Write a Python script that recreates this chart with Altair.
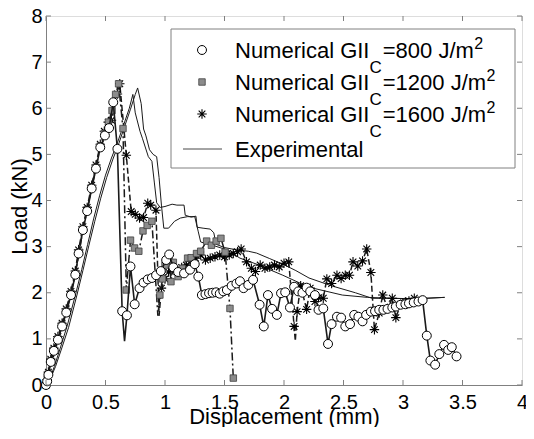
import altair as alt
import pandas as pd

# ---------------- data ----------------
# Numerical GIIc = 800 J/m2 (open circles, solid line)
x800 = [0, 0.01, 0.02, 0.04, 0.066, 0.10, 0.135, 0.17, 0.21, 0.246, 0.274, 0.31, 0.346, 0.384,
        0.42, 0.456, 0.495, 0.53, 0.565, 0.60, 0.64, 0.68, 0.71, 0.745, 0.786, 0.82, 0.855, 0.89,
        0.925, 0.965, 1.01, 1.035, 1.07, 1.11, 1.16, 1.21, 1.25, 1.28, 1.31, 1.34, 1.37, 1.40,
        1.43, 1.46, 1.49, 1.52, 1.56, 1.60, 1.63, 1.66, 1.70, 1.74, 1.795, 1.83, 1.865, 1.90,
        1.94, 1.975, 2.01, 2.05, 2.085, 2.12, 2.155, 2.19, 2.22, 2.26, 2.29, 2.33, 2.37, 2.40,
        2.445, 2.48, 2.515, 2.555, 2.59, 2.625, 2.66, 2.69, 2.73, 2.765, 2.80, 2.835, 2.87, 2.91,
        2.94, 2.98, 3.02, 3.05, 3.09, 3.13, 3.165, 3.20, 3.23, 3.27, 3.305, 3.345, 3.38, 3.41, 3.45]
y800 = [0, 0.08, 0.22, 0.5, 0.74, 0.98, 1.27, 1.57, 1.95, 2.39, 2.85, 3.36, 3.77, 4.26,
        4.69, 5.15, 5.41, 5.57, 6.13, 5.12, 1.6, 1.51, 2.57, 1.75, 2.1, 2.22, 2.29, 2.32,
        2.38, 2.47, 2.71, 2.83, 2.55, 2.45, 2.42, 2.5, 2.62, 2.35, 1.95, 1.97, 1.99, 2.0,
        2.01, 1.98, 2.03, 2.06, 2.15, 2.2, 2.25, 2.1, 2.17, 2.28, 1.74, 1.27, 1.95, 1.65,
        1.52, 1.99, 2.01, 1.68, 2.13, 2.03, 2.0, 2.11, 2.03, 1.95, 1.63, 1.66, 0.89, 1.32,
        1.48, 1.46, 1.27, 1.32, 1.52, 1.48, 1.38, 1.52, 1.59, 1.6, 1.63, 1.63, 1.65, 1.68,
        1.70, 1.74, 1.75, 1.77, 1.79, 1.81, 1.84, 1.07, 0.53, 0.44, 0.67, 0.87, 0.76, 0.82, 0.62]
spike800_x = [0.66]
spike800_y = [0.95]

# Numerical GIIc = 1200 J/m2 (grey squares, dash-dot line)
x1200 = [0, 0.01, 0.02, 0.04, 0.066, 0.10, 0.135, 0.17, 0.21, 0.246, 0.28, 0.31, 0.346, 0.384,
         0.42, 0.456, 0.49, 0.525, 0.555, 0.585, 0.61, 0.647, 0.675, 0.71, 0.744, 0.78, 0.815,
         0.85, 0.89, 0.957, 0.98, 1.0, 1.035, 1.05, 1.07, 1.11, 1.145, 1.19, 1.22, 1.265, 1.30,
         1.35, 1.39, 1.43, 1.47, 1.505, 1.546, 1.574]
y1200 = [0, 0.1, 0.24, 0.52, 0.76, 1.0, 1.3, 1.6, 1.98, 2.42, 2.88, 3.38, 3.8, 4.28,
         4.72, 5.18, 5.45, 5.7, 5.95, 6.3, 6.53, 5.56, 2.06, 3.14, 2.97, 2.9, 3.34,
         3.46, 3.55, 1.95, 2.3, 2.6, 2.75, 2.24, 2.66, 2.35, 2.53, 2.75, 2.76, 2.85, 2.9,
         3.12, 3.03, 3.12, 3.18, 2.88, 1.66, 0.15]
spike1200_x = [0.94]
spike1200_y = [1.5]

# Numerical GIIc = 1600 J/m2 (stars, dashed line)
x1600 = [0, 0.01, 0.02, 0.04, 0.066, 0.10, 0.135, 0.17, 0.21, 0.246, 0.274, 0.31, 0.346, 0.384,
         0.42, 0.456, 0.49, 0.523, 0.55, 0.60, 0.62, 0.675, 0.716, 0.75, 0.786, 0.82, 0.855,
         0.88, 0.924, 0.97, 1.0, 1.03, 1.065, 1.10, 1.14, 1.18, 1.22, 1.256, 1.30, 1.34, 1.38,
         1.42, 1.46, 1.50, 1.54, 1.574, 1.61, 1.64, 1.685, 1.726, 1.76, 1.80, 1.84, 1.88, 1.92,
         1.96, 2.0, 2.04, 2.085, 2.11, 2.14, 2.19, 2.22, 2.26, 2.29, 2.33, 2.36, 2.40, 2.445,
         2.48, 2.515, 2.55, 2.58, 2.62, 2.66, 2.695, 2.73, 2.76, 2.80, 2.83, 2.87, 2.91, 2.94,
         2.98, 3.02, 3.05, 3.095]
y1600 = [0, 0.12, 0.28, 0.56, 0.8, 1.05, 1.34, 1.65, 2.03, 2.47, 2.93, 3.43, 3.85, 4.33,
         4.77, 5.22, 5.5, 5.7, 5.74, 6.31, 6.53, 4.98, 3.76, 3.7, 3.62, 3.63, 3.94,
         3.9, 3.79, 2.1, 2.3, 2.45, 2.5, 2.46, 2.55, 2.6, 2.68, 2.75, 2.82, 2.71, 2.75,
         2.78, 2.82, 2.78, 2.82, 2.85, 2.89, 2.95, 2.67, 2.53, 2.46, 2.6, 2.53, 2.56, 2.6,
         2.56, 2.64, 2.67, 1.27, 1.59, 2.15, 1.64, 2.1, 1.81, 1.89, 1.88, 2.3, 2.2, 2.38,
         2.31, 2.38, 2.38, 2.67, 2.58, 2.69, 2.95, 2.44, 1.2, 1.56, 1.95, 1.66, 1.88, 1.46,
         1.75, 1.8, 1.82, 1.88]
spike1600_x = [0.95, 2.095]
spike1600_y = [1.5, 0.95]

# Experimental (two specimens, thin lines)
expA_x = [0, 0.03, 0.07, 0.12, 0.18, 0.25, 0.30, 0.35, 0.40, 0.45, 0.50, 0.55, 0.60, 0.65,
          0.70, 0.73, 0.75, 0.79, 0.81, 0.86, 0.89, 0.91, 0.93, 0.96, 1.0, 1.06, 1.10, 1.16,
          1.17, 1.22, 1.26, 1.27, 1.32, 1.38, 1.41, 1.43, 1.50, 1.60, 1.70, 1.77, 1.88, 1.99,
          2.10, 2.21, 2.40, 2.60, 2.74, 2.90, 3.05, 3.20, 3.35]
expA_y = [0, 0.12, 0.4, 0.8, 1.3, 1.98, 2.5, 3.05, 3.6, 4.1, 4.55, 4.92, 5.25, 5.62,
          6.0, 6.3, 5.9, 5.5, 5.35, 4.95, 4.85, 4.4, 3.95, 3.85, 3.87, 3.92, 3.9, 3.9,
          3.68, 3.64, 3.66, 3.42, 3.4, 3.38, 3.3, 3.05, 2.98, 2.93, 2.9, 2.86, 2.74, 2.62,
          2.48, 2.32, 2.15, 2.0, 1.88, 1.88, 1.87, 1.88, 1.9]
expB_x = [0, 0.03, 0.08, 0.13, 0.19, 0.26, 0.31, 0.36, 0.41, 0.46, 0.51, 0.56, 0.61, 0.66,
          0.71, 0.75, 0.77, 0.80, 0.82, 0.84, 0.87, 0.90, 0.93, 0.95, 0.97, 0.99, 1.03, 1.08,
          1.13, 1.19, 1.25, 1.28, 1.30, 1.40, 1.52, 1.63, 1.77, 1.99, 2.21, 2.49, 2.70, 2.90,
          3.10, 3.35]
expB_y = [0, 0.1, 0.4, 0.78, 1.25, 1.95, 2.48, 3.02, 3.55, 4.05, 4.5, 4.88, 5.22, 5.6,
          5.98, 6.3, 6.44, 6.1, 5.55, 5.4, 5.1, 5.0, 4.95, 4.5, 3.9, 3.4, 3.4, 3.55,
          3.62, 3.65, 3.65, 3.32, 3.1, 3.03, 2.93, 2.75, 2.62, 2.38, 2.12, 1.95, 1.9, 1.88,
          1.87, 1.9]

x_ticks = [0, 0.5, 1, 1.5, 2, 2.5, 3, 3.5, 4]
y_ticks = [0, 1, 2, 3, 4, 5, 6, 7, 8]
legend_values = ["800", "1200", "1600"]

# ---------------- styling ----------------
W, H = 476, 369
FONT = "Liberation Sans"
GREY = "#808080"
INK = "#1a1a1a"

xsc = alt.Scale(domain=[0, 4], nice=False, zero=False)
ysc = alt.Scale(domain=[0, 8], nice=False, zero=False)
xaxis = alt.Axis(values=x_ticks, labelExpr="'' + datum.value", ticks=False, tickSize=0,
                 grid=False, labelFont=FONT, labelFontSize=20, labelColor="black",
                 labelPadding=7, labelFlush=False, labelOverlap=False,
                 domainColor=GREY, domainWidth=1, titleFont=FONT, titleFontSize=22,
                 titleFontWeight="normal", titleColor="black", titleY=38,
                 titleBaseline="alphabetic")
yaxis = alt.Axis(values=y_ticks, ticks=False, tickSize=0, grid=False, labelFont=FONT,
                 labelFontSize=20, labelColor="black", labelPadding=4, labelFlush=False,
                 labelOverlap=False, domainColor=GREY, domainWidth=1, titleFont=FONT,
                 titleFontSize=22, titleFontWeight="normal", titleColor="black",
                 titleX=-20, titleY=190, titleBaseline="alphabetic", titleAngle=270)


def X(field="x"):
    return alt.X(f"{field}:Q", scale=xsc, axis=xaxis, title="Displacement (mm)")


def Y(field="y"):
    return alt.Y(f"{field}:Q", scale=ysc, axis=yaxis, title="Load (kN)")


def frame(xs, ys):
    return pd.DataFrame({"x": xs, "y": ys, "i": list(range(len(xs)))})


def with_spikes(xs, ys, sx, sy):
    pts = sorted(list(zip(xs, ys)) + list(zip(sx, sy)), key=lambda p: p[0])
    return frame([p[0] for p in pts], [p[1] for p in pts])


def line(df, **kw):
    return alt.Chart(df).mark_line(**kw).encode(x=X(), y=Y(), order="i:Q")


STAR = "M0,-1L0,1M-1,0L1,0M-0.7,-0.7L0.7,0.7M-0.7,0.7L0.7,-0.7"

layers = []
# experimental
layers.append(line(frame(expA_x, expA_y), color=INK, strokeWidth=1))
layers.append(line(frame(expB_x, expB_y), color=INK, strokeWidth=1))
# 1600
layers.append(line(with_spikes(x1600, y1600, spike1600_x, spike1600_y), color=INK,
                   strokeWidth=1.5, strokeDash=[6, 3]))
layers.append(alt.Chart(frame(x1600, y1600)).mark_point(
    shape=STAR, size=90, filled=False, stroke="black", strokeWidth=1.1, opacity=1
).encode(x=X(), y=Y()))
# 1200
layers.append(line(with_spikes(x1200, y1200, spike1200_x, spike1200_y), color=INK,
                   strokeWidth=1.5, strokeDash=[8, 3, 2, 3]))
layers.append(alt.Chart(frame(x1200, y1200)).mark_point(
    shape="square", size=42, filled=True, fill="#8c8c8c", stroke="#404040",
    strokeWidth=0.8, opacity=1
).encode(x=X(), y=Y()))
# 800
layers.append(line(with_spikes(x800, y800, spike800_x, spike800_y), color=INK,
                   strokeWidth=1.6))
layers.append(alt.Chart(frame(x800, y800)).mark_point(
    shape="circle", size=80, filled=True, fill="white", stroke="black",
    strokeWidth=1, opacity=1
).encode(x=X(), y=Y()))

# inward ticks on all four sides
xt = pd.DataFrame({"x": x_ticks})
yt = pd.DataFrame({"y": y_ticks})
layers.append(alt.Chart(xt).mark_rule(color=GREY).encode(
    x=X(), y=alt.value(H), y2=alt.value(H - 5)))
layers.append(alt.Chart(xt).mark_rule(color=GREY).encode(
    x=X(), y=alt.value(0), y2=alt.value(5)))
layers.append(alt.Chart(yt).mark_rule(color=GREY).encode(
    y=Y(), x=alt.value(0), x2=alt.value(5)))
layers.append(alt.Chart(yt).mark_rule(color=GREY).encode(
    y=Y(), x=alt.value(W), x2=alt.value(W - 5)))

# ---------------- legend ----------------
one = pd.DataFrame({"k": [0]})
layers.append(alt.Chart(one).mark_rect(fill="white", stroke=GREY, strokeWidth=1).encode(
    x=alt.value(125), x2=alt.value(469), y=alt.value(13), y2=alt.value(152)))

AW = {"N": 722, "u": 556, "m": 833, "e": 556, "r": 333, "i": 222, "c": 500, "a": 556,
      "l": 222, " ": 278, "G": 778, "I": 278, "C": 722, "=": 584, "J": 500, "/": 278}
for d in "0123456789":
    AW[d] = 556


def tw(s, fs):
    return sum(AW.get(ch, 556) for ch in s) * fs / 1000.0


def txt(s, px, py, fs):
    return alt.Chart(one).mark_text(
        text=s, font=FONT, fontSize=fs, align="left", baseline="alphabetic", color="black"
    ).encode(x=alt.value(px), y=alt.value(py))


LF = 22
row_y = [34, 66, 98]
TX = 189
for k, val in enumerate(legend_values):
    cy = row_y[k]
    base = cy + 8
    p1 = "Numerical GII"
    p3 = "=" + val + " J/m"
    x1 = TX
    x2 = x1 + tw(p1, LF)
    x3 = x2 + tw("C", 17) + 1
    x4 = x3 + tw(p3, LF)
    layers.append(txt(p1, x1, base, LF))
    layers.append(txt("C", x2, base + 15, 17))
    layers.append(txt(p3, x3, base, LF))
    layers.append(txt("2", x4 + 0.5, base - 9, 16))

layers.append(alt.Chart(one).mark_point(
    shape="circle", size=80, filled=True, fill="white", stroke="black", strokeWidth=1,
    opacity=1).encode(x=alt.value(156), y=alt.value(row_y[0])))
layers.append(alt.Chart(one).mark_point(
    shape="square", size=42, filled=True, fill="#8c8c8c", stroke="#404040",
    strokeWidth=0.8, opacity=1).encode(x=alt.value(156), y=alt.value(row_y[1])))
layers.append(alt.Chart(one).mark_point(
    shape=STAR, size=90, filled=False, stroke="black", strokeWidth=1.1,
    opacity=1).encode(x=alt.value(156), y=alt.value(row_y[2])))
layers.append(alt.Chart(one).mark_rule(color=INK, strokeWidth=0.8).encode(
    x=alt.value(137), x2=alt.value(176), y=alt.value(133)))
layers.append(txt("Experimental", TX, 133 + 8, LF))

chart = alt.layer(*layers).properties(
    width=W, height=H,
    autosize=alt.AutoSizeParams(type="none"),
    padding={"left": 38, "top": 8, "right": 4, "bottom": 42},
).configure_view(stroke=GREY, strokeWidth=1).configure(background="white")

chart.save("out.html", embed_options={"renderer": "svg", "actions": False})
